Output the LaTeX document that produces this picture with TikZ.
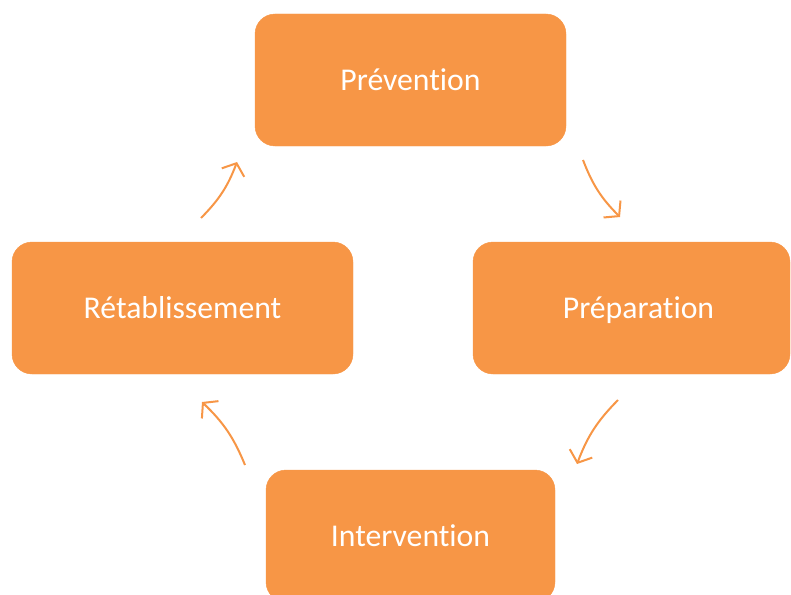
\documentclass[tikz,border=0pt]{standalone}
\usepackage{fontspec}
\setmainfont{Carlito}[Ligatures=NoCommon]
\usepackage{xcolor}
\usetikzlibrary{arrows.meta}
\definecolor{phaseorange}{HTML}{F79646}

\begin{document}
\begin{tikzpicture}[
  x=1pt,
  y=-1pt,
  phase/.style={fill=phaseorange, draw=phaseorange, rounded corners=20pt,
    text=white, font=\fontsize{31.7}{38}\selectfont, inner sep=0pt,
    text height=24pt, text depth=3pt},
  cycle/.style={phaseorange, line width=2pt,
    -{Straight Barb[length=10pt, width=24pt]}}
]
  \useasboundingbox (0,0) rectangle (791,594);
  \clip (0,0) rectangle (791,594);

  % ---- the four phases -------------------------------------------------
  \node[phase, minimum width=311pt, minimum height=132pt] (prevention)
    at (410.5,80) {Prévention};
  \node[phase, minimum width=317pt, minimum height=132pt] (preparation)
    at (631.5,308) {\hspace*{14pt}Préparation};
  \node[phase, minimum width=289pt, minimum height=132pt] (intervention)
    at (410.5,536) {Intervention};
  \node[phase, minimum width=341pt, minimum height=132pt] (retablissement)
    at (182.5,308) {Rétablissement};

  % ---- the ends of the arrows ------------------------------------------
  \coordinate (a1) at (583,160);
  \coordinate (b1) at (620,217);
  \coordinate (a2) at (618,400);
  \coordinate (b2) at (577,464);
  \coordinate (a3) at (245,465);
  \coordinate (b3) at (202,402);
  \coordinate (a4) at (201,218);
  \coordinate (b4) at (237,162);

  % ---- the cycle -------------------------------------------------------
  \draw[cycle] (a1) to[bend right=12] (b1);
  \draw[cycle] (a2) to[bend right=12] (b2);
  \draw[cycle] (a3) to[bend right=12] (b3);
  \draw[cycle] (a4) to[bend right=12] (b4);
\end{tikzpicture}
\end{document}
